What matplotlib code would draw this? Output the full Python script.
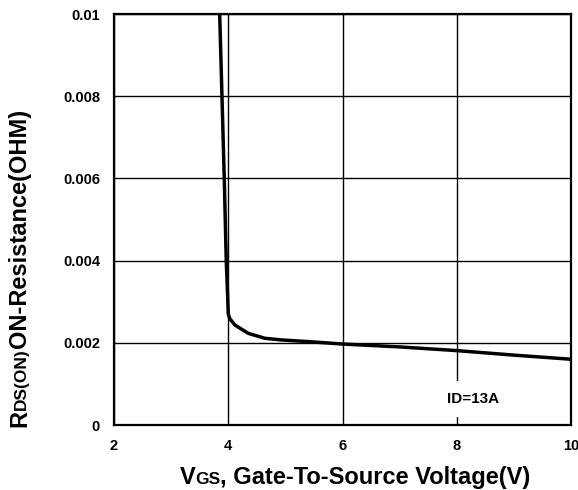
#!/usr/bin/env python3

import matplotlib
matplotlib.use("Agg")
import matplotlib.pyplot as plt

plt.rcParams['font.family'] = ['Liberation Sans', 'DejaVu Sans']

# curve
vgs = [3.85, 3.89, 3.93, 3.965, 3.99, 4.0, 4.03, 4.12, 4.35, 4.64, 4.93, 5.5, 6.0, 7.0, 8.0, 9.0, 10.0]
rds = [0.0100, 0.0080, 0.0060, 0.0040, 0.0031, 0.0027, 0.00258, 0.00243, 0.00223,
       0.00211, 0.00207, 0.00202, 0.00197, 0.0019, 0.00181, 0.0017, 0.0016]

x_ticks = [2, 4, 6, 8, 10]
y_ticks = [0, 0.002, 0.004, 0.006, 0.008, 0.01]
y_tick_labels = ["0", "0.002", "0.004", "0.006", "0.008", "0.01"]

note_text = "ID=13A"
note_pos = (8.28, 0.00063)

x_label_parts = [("V", 17), ("GS", 12.5), (", Gate-To-Source Voltage(V)", 17)]
y_label_parts = [("R", 17), ("DS(ON)", 12.5), ("ON-Resistance(OHM)", 17)]


def chain_text(fig, parts, x0, y0, rotation=0):
    """write pieces of text one after the other, starting at pixel (x0, y0)"""
    r = fig.canvas.get_renderer()
    pos = 0
    for s, size in parts:
        if rotation == 0:
            xy = (x0 + pos, y0)
        else:
            xy = (x0, y0 + pos)
        t = fig.text(xy[0] / fig.bbox.width, xy[1] / fig.bbox.height, s,
                     fontsize=size, fontweight='bold', rotation=rotation,
                     ha='left', va='baseline', rotation_mode='anchor')
        ext = t.get_window_extent(r)
        pos += ext.width if rotation == 0 else ext.height
    return pos


def text_length(fig, parts):
    r = fig.canvas.get_renderer()
    total = 0
    for s, size in parts:
        t = fig.text(0, 0, s, fontsize=size, fontweight='bold')
        total += t.get_window_extent(r).width
        t.remove()
    return total


if __name__ == "__main__":
    fig = plt.figure(figsize=(5.78, 4.9), dpi=100)
    ax = fig.add_axes([114 / 578, 65 / 490, 457 / 578, 411 / 490])

    ax.plot(vgs, rds, color='black', linewidth=2.5, solid_capstyle='butt', zorder=4)

    ax.set_xlim(2, 10)
    ax.set_ylim(0, 0.01)
    ax.set_xticks(x_ticks)
    ax.set_yticks(y_ticks)
    ax.set_yticklabels(y_tick_labels)
    ax.tick_params(length=0, labelsize=10.5, pad=10)
    for lab in ax.get_xticklabels() + ax.get_yticklabels():
        lab.set_fontweight('bold')

    ax.grid(True, color='black', linewidth=1)
    for sp in ax.spines.values():
        sp.set_linewidth(1.6)

    ax.text(note_pos[0], note_pos[1], note_text, ha='center', va='center',
            fontsize=11, fontweight='bold', zorder=3,
            bbox=dict(facecolor='white', edgecolor='none', pad=8))

    fig.canvas.draw()
    wx = text_length(fig, x_label_parts)
    chain_text(fig, x_label_parts, 355 - wx / 2, 6)
    wy = text_length(fig, y_label_parts)
    chain_text(fig, y_label_parts, 26, 490 - 427 + (318 - wy) / 2, rotation=90)

    fig.savefig("out.png", dpi=100)
